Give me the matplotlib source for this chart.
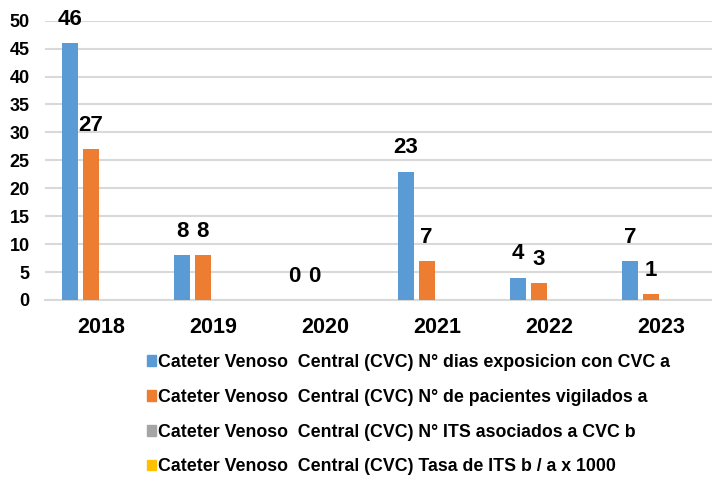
import matplotlib.pyplot as plt
from matplotlib.patches import Patch
import numpy as np

plt.rcParams['font.family'] = ['Liberation Sans', 'DejaVu Sans']
plt.rcParams['font.weight'] = 'bold'

years = ['2018', '2019', '2020', '2021', '2022', '2023']
dias_exposicion = [46, 8, 0, 23, 4, 7]
pacientes_vigilados = [27, 8, 0, 7, 3, 1]
its_asociados = [0, 0, 0, 0, 0, 0]
tasa_its = [0, 0, 0, 0, 0, 0]

labels = [
    'Cateter Venoso  Central (CVC) N° dias exposicion con CVC a',
    'Cateter Venoso  Central (CVC) N° de pacientes vigilados a',
    'Cateter Venoso  Central (CVC) N° ITS asociados a CVC b',
    'Cateter Venoso  Central (CVC) Tasa de ITS b / a x 1000',
]
colors = ['#5B9BD5', '#ED7D31', '#A5A5A5', '#FFC000']
series = [dias_exposicion, pacientes_vigilados, its_asociados, tasa_its]

fig = plt.figure(figsize=(7.12, 4.79), dpi=100)
ax = fig.add_axes([45/712, 1 - 300/479, 672/712, (300 - 20.7)/479])

x = np.arange(len(years))
width = 0.143
step = 0.184
offsets = (np.arange(4) - 1.5) * step

for i, (vals, col) in enumerate(zip(series, colors)):
    bars = ax.bar(x + offsets[i], vals, width, color=col, zorder=3)
    # only the first two series carry value labels
    if i < 2:
        for b, v in zip(bars, vals):
            ax.annotate(str(v), (b.get_x() + b.get_width()/2, v),
                        xytext=(0, 9.5), textcoords='offset points',
                        ha='center', va='bottom', fontsize=16, fontweight='bold')

ax.set_xlim(-0.5, len(years) - 0.5)
ax.set_ylim(0, 50)
ax.set_yticks(range(0, 51, 5))
ax.set_xticks(x)
ax.set_xticklabels(years, fontsize=15.5, fontweight='bold')
ax.tick_params(axis='y', length=0, pad=11, labelsize=13)
ax.tick_params(axis='x', length=0, pad=12.5)
for s in ['top', 'right', 'left']:
    ax.spines[s].set_visible(False)
ax.spines['bottom'].set_color('#d9d9d9')
ax.spines['bottom'].set_linewidth(1.5)
ax.grid(axis='y', color='#d9d9d9', linewidth=1.5, zorder=0)

handles = [Patch(color=c) for c in colors]
fig.legend(handles, labels, loc='upper left', bbox_to_anchor=(146.5/712, 1 - 354/479),
           frameon=False, fontsize=12.8, handlelength=0.55, handleheight=0.55,
           handletextpad=0.1, labelspacing=1.0, borderaxespad=0, borderpad=0)

fig.savefig('out.png', dpi=100)
